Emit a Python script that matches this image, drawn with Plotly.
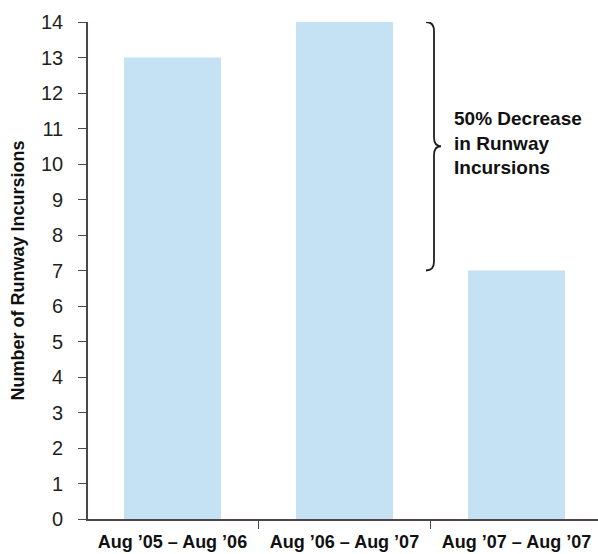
import plotly.graph_objects as go

# Runway incursions per twelve-month period
periods = ["Aug \u201905 \u2013 Aug \u201906", "Aug \u201906 \u2013 Aug \u201907", "Aug \u201907 \u2013 Aug \u201907"]
incursions = [13, 14, 7]
y_ticks = list(range(0, 15))

BAR_COLOR = "#c4e2f4"
AXIS_COLOR = "#4d4546"
TEXT_COLOR = "#231f20"
NARROW = "Liberation Sans Narrow, Arial Narrow, Liberation Sans, Arial, sans-serif"

W, H = 598, 554
ML, MR, MT, MB = 88, 0, 22, 35

fig = go.Figure(
    go.Bar(
        x=periods,
        y=incursions,
        marker=dict(color=BAR_COLOR, line=dict(width=0)),
        width=0.564,
        hoverinfo="x+y",
    )
)

# Curly brace spanning the drop from the peak year to the latest year
hi, lo = incursions[1], incursions[2]
mid = (hi + lo) / 2
plot_w = W - ML - MR
px_to_paper = lambda px: (px - ML) / plot_w
yscale = (H - MT - MB) / 14.0  # pixels per unit
dy = lambda px: px / yscale

x0 = px_to_paper(426)
x1 = px_to_paper(434)
x2 = px_to_paper(441)
brace = (
    f"M {x0},{hi} "
    f"Q {x1},{hi} {x1},{hi - dy(9)} "
    f"L {x1},{mid + dy(9)} "
    f"Q {x1},{mid} {x2},{mid} "
    f"Q {x1},{mid} {x1},{mid - dy(9)} "
    f"L {x1},{lo + dy(9)} "
    f"Q {x1},{lo} {x0},{lo}"
)
fig.add_shape(
    type="path", path=brace, xref="paper", yref="y",
    line=dict(color="#231f20", width=1.8),
)

drop_pct = round((hi - lo) / hi * 100)
fig.add_annotation(
    xref="paper", yref="y",
    x=px_to_paper(452), y=mid + dy(3),
    xanchor="left", yanchor="middle", align="left",
    text=f"<b>{drop_pct}% Decrease<br>in Runway<br>Incursions</b>",
    showarrow=False,
    font=dict(family=NARROW, size=19, color="#111111"),
)

fig.update_layout(
    width=W, height=H,
    margin=dict(l=ML, r=MR, t=MT, b=MB, pad=0),
    paper_bgcolor="white", plot_bgcolor="white",
    showlegend=False,
    xaxis=dict(
        type="category",
        range=[-0.491, 2.474],
        tickson="boundaries",
        ticks="outside", ticklen=8, tickwidth=1.2, tickcolor=AXIS_COLOR,
        showline=True, linecolor=AXIS_COLOR, linewidth=1.6,
        showgrid=False, zeroline=False,
        tickfont=dict(family=NARROW, size=18, color="#111111", weight="bold"),
        ticklabelstandoff=6,
    ),
    yaxis=dict(
        range=[0, 14],
        tickvals=y_ticks,
        ticks="outside", ticklen=8, tickwidth=1.2, tickcolor=AXIS_COLOR,
        showline=True, linecolor=AXIS_COLOR, linewidth=1.6,
        showgrid=False, zeroline=False,
        tickfont=dict(family=NARROW, size=20, color=TEXT_COLOR),
        ticklabelstandoff=11,
        title=dict(
            text="<b>Number of Runway Incursions</b>",
            font=dict(family=NARROW, size=18, color="#111111"),
            standoff=12,
        ),
    ),
)

fig.write_html("out.html")
